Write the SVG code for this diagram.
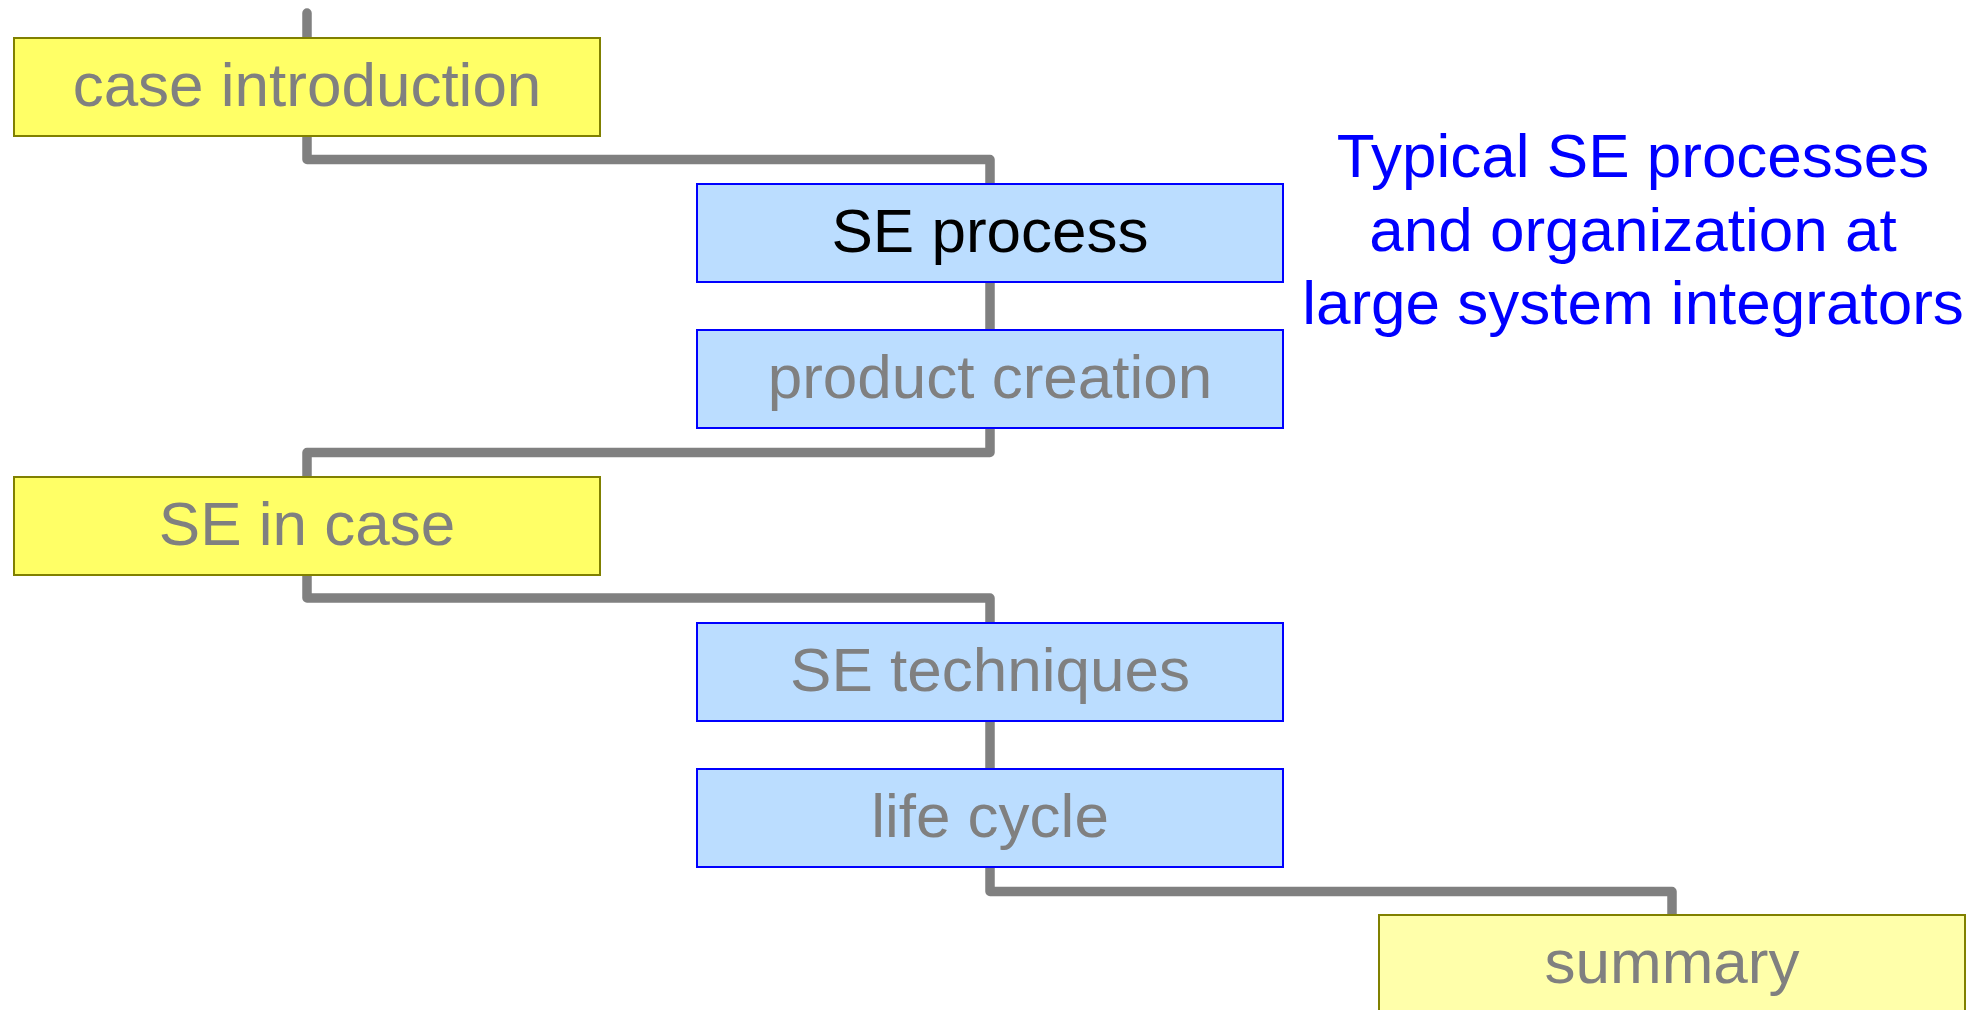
<svg xmlns="http://www.w3.org/2000/svg" width="1982" height="1010" viewBox="0 0 1982 1010">
  <style>
    .conn { fill: none; stroke: #808080; stroke-width: 9.5; stroke-linejoin: round; stroke-linecap: round; }
    .yel { fill: #ffff66; stroke: #808000; stroke-width: 2; }
    .yel2 { fill: #ffffaa; stroke: #808000; stroke-width: 2; }
    .blu { fill: #bbddff; stroke: #0000ff; stroke-width: 2; }
    .lbl { font-family: "Liberation Sans", Arial, sans-serif; font-size: 62px; text-anchor: middle; fill: #808080; }
    .dark { fill: #000000; }
    .title { font-family: "Liberation Sans", Arial, sans-serif; font-size: 62px; text-anchor: middle; fill: #0000ff; }
  </style>
  <rect width="1982" height="1010" fill="#ffffff"/>
  <g id="connectors">
    <path class="conn" d="M307,13 L307,159.5 L990,159.5 L990,452.5 L307,452.5 L307,598 L990,598 L990,891.5 L1672,891.5 L1672,1015"/>
  </g>
  <g id="case-introduction">
    <rect class="yel" x="14" y="38" width="586" height="98"/>
    <text class="lbl" x="307" y="106">case introduction</text>
  </g>
  <g id="se-process">
    <rect class="blu" x="697" y="184" width="586" height="98"/>
    <text class="lbl dark" x="990" y="252">SE process</text>
  </g>
  <g id="product-creation">
    <rect class="blu" x="697" y="330" width="586" height="98"/>
    <text class="lbl" x="990" y="398">product creation</text>
  </g>
  <g id="se-in-case">
    <rect class="yel" x="14" y="477" width="586" height="98"/>
    <text class="lbl" x="307" y="545">SE in case</text>
  </g>
  <g id="se-techniques">
    <rect class="blu" x="697" y="623" width="586" height="98"/>
    <text class="lbl" x="990" y="691">SE techniques</text>
  </g>
  <g id="life-cycle">
    <rect class="blu" x="697" y="769" width="586" height="98"/>
    <text class="lbl" x="990" y="837">life cycle</text>
  </g>
  <g id="summary">
    <rect class="yel2" x="1379" y="915" width="586" height="110"/>
    <text class="lbl" x="1672" y="983">summary</text>
  </g>
  <g id="title">
    <text class="title" x="1633" y="177">Typical SE processes</text>
    <text class="title" x="1633" y="250.5">and organization at</text>
    <text class="title" x="1633" y="324">large system integrators</text>
  </g>
</svg>
